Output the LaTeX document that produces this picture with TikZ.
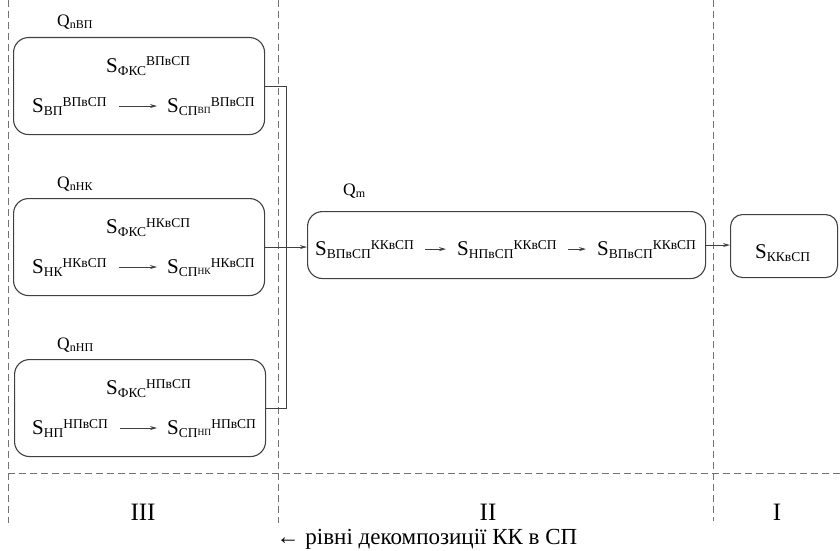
\documentclass[tikz,border=0pt]{standalone}
\usepackage{fontspec}
\setmainfont{Liberation Serif}
\usetikzlibrary{arrows.meta}

% S with a subscript and a superscript set one after the other
\newcommand{\symS}[2]{{\fontsize{21}{21}\selectfont S}\raisebox{-3pt}{\fontsize{13.5}{14}\selectfont #1}\raisebox{6pt}{\fontsize{13.5}{14}\selectfont #2}}
% S with a subscript only
\newcommand{\symSsub}[1]{{\fontsize{21}{21}\selectfont S}\raisebox{-3pt}{\fontsize{13.5}{14}\selectfont #1}}
% subscript carrying a smaller raised index
\newcommand{\subidx}[2]{#1\raisebox{2pt}{\fontsize{9.5}{10}\selectfont #2}}
% Q with a subscript
\newcommand{\symQ}[1]{{\fontsize{17.5}{17.5}\selectfont Q}\raisebox{-2pt}{\fontsize{12}{12}\selectfont #1}}

\begin{document}
\begin{tikzpicture}[x=1pt,y=-1pt,
  box/.style={draw=black!75, line width=1.1pt, rounded corners=15pt, inner sep=0pt},
  sep/.style={draw=black!55, line width=0.8pt, dash pattern=on 7pt off 4pt},
  lbl/.style={inner sep=0pt, anchor=base west},
  level/.style={inner sep=0pt, anchor=base, font=\fontsize{25}{25}\selectfont},
  link/.style={draw=black!75, line width=1pt},
  tip/.style={-{Stealth[length=7pt,width=4pt]}}]
\useasboundingbox (0,0) rectangle (840,551);

% level separators
\coordinate (s1t) at (8,0);   \coordinate (s1b) at (8,523);
\coordinate (s2t) at (278,0); \coordinate (s2b) at (278,523);
\coordinate (s3t) at (713,0); \coordinate (s3b) at (713,521);
\coordinate (hl) at (8,473);  \coordinate (hr) at (840,473);
\draw[sep] (s1t) -- (s1b);
\draw[sep] (s2t) -- (s2b);
\draw[sep] (s3t) -- (s3b);
\draw[sep] (hl) -- (hr);

% level III boxes
\node[box, minimum width=251pt, minimum height=97pt, anchor=north west] (b1) at (13,37) {};
\node[box, minimum width=251pt, minimum height=97pt, anchor=north west] (b2) at (13,198) {};
\node[box, minimum width=251pt, minimum height=97pt, anchor=north west] (b3) at (14,359) {};

\node[lbl] (q1) at (57,27)  {\symQ{nВП}};
\node[lbl] (q2) at (57,188) {\symQ{nНК}};
\node[lbl] (q3) at (57,349) {\symQ{nНП}};

\node[lbl] (f1) at (106,72)  {\symS{ФКС}{ВПвСП}};
\node[lbl] (a1) at (32,112)  {\symS{ВП}{ВПвСП}};
\node[lbl] (c1) at (167,112) {\symS{\subidx{СП}{ВП}}{ВПвСП}};

\node[lbl] (f2) at (106,233) {\symS{ФКС}{НКвСП}};
\node[lbl] (a2) at (32,273)  {\symS{НК}{НКвСП}};
\node[lbl] (c2) at (167,273) {\symS{\subidx{СП}{НК}}{НКвСП}};

\node[lbl] (f3) at (106,394) {\symS{ФКС}{НПвСП}};
\node[lbl] (a3) at (32,434)  {\symS{НП}{НПвСП}};
\node[lbl] (c3) at (167,434) {\symS{\subidx{СП}{НП}}{НПвСП}};

\draw[link, tip, line width=0.8pt, shorten <=12pt, shorten >=10pt] (a1.east) -- (a1.east -| c1.west);
\draw[link, tip, line width=0.8pt, shorten <=12pt, shorten >=10pt] (a2.east) -- (a2.east -| c2.west);
\draw[link, tip, line width=0.8pt, shorten <=12pt, shorten >=10pt] (a3.east) -- (a3.east -| c3.west);

% level II box
\node[box, minimum width=398pt, minimum height=67pt, anchor=north west] (mid) at (307,211) {};
\node[lbl] (qm) at (343,195) {\symQ{m}};
\node[lbl] (m1) at (315,255) {\symS{ВПвСП}{ККвСП}};
\node[lbl] (m2) at (457,255) {\symS{НПвСП}{ККвСП}};
\node[lbl] (m3) at (597,255) {\symS{ВПвСП}{ККвСП}};
\draw[link, tip, line width=0.8pt, shorten <=11pt, shorten >=11pt] (m1.east) -- (m1.east -| m2.west);
\draw[link, tip, line width=0.8pt, shorten <=11pt, shorten >=11pt] (m2.east) -- (m2.east -| m3.west);

% level I box
\node[box, rounded corners=12pt, minimum width=107pt, minimum height=63pt, anchor=north west] (kb) at (730,214) {};
\node[lbl] (k) at (755,258) {\symSsub{ККвСП}};

% connectors between levels
\draw[link] (b1.east) -- ++(21,0) |- (b3.east);
\draw[link, tip] (b2.east) -- (b2.east -| mid.west);
\draw[link, tip] (mid.east) -- (mid.east -| kb.west);

% level numbers and caption
\node[level] (l3) at (143,520) {III};
\node[level] (l2) at (488,520) {II};
\node[level] (l1) at (777,520) {I};
\node[inner sep=0pt, anchor=base, font=\fontsize{23}{23}\selectfont] (cap) at (427,544) {← рівні декомпозиції КК в СП};
\end{tikzpicture}
\end{document}
